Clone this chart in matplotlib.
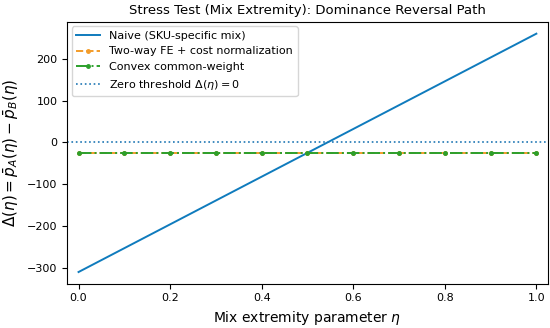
import numpy as np
import matplotlib
matplotlib.use("Agg")
import matplotlib.pyplot as plt

# mix extremity grid and the three estimators' dominance gap
eta = [0.0, 0.1, 0.2, 0.3, 0.4, 0.5, 0.6, 0.7, 0.8, 0.9, 1.0]
naive = [-310, -253, -196, -139, -82, -25, 32, 89, 146, 203, 260]
twoway_fe = [-25, -25, -25, -25, -25, -25, -25, -25, -25, -25, -25]
convex_cw = [-25, -25, -25, -25, -25, -25, -25, -25, -25, -25, -25]

fig, ax = plt.subplots(figsize=(5.5, 3.28), dpi=100)

ax.plot(eta, naive, color="#0f7bbd", lw=1.4, label="Naive (SKU-specific mix)")
ax.plot(eta, twoway_fe, color="#f39c2a", lw=1.4, ls="--", marker="o", ms=2.5,
        label="Two-way FE + cost normalization")
ax.plot(eta, convex_cw, color="#2ca02c", lw=1.4, ls="-.", marker="o", ms=2.5,
        label="Convex common-weight")
ax.axhline(0, color="#1f77b4", lw=1.2, ls=":", label=r"Zero threshold $\Delta(\eta) = 0$")

ax.set_xlim(-0.025, 1.025)
ax.set_ylim(-338, 288)
ax.set_xticks([0.0, 0.2, 0.4, 0.6, 0.8, 1.0])
ax.tick_params(labelsize=8)
ax.set_xlabel(r"Mix extremity parameter $\eta$", fontsize=10)
ax.set_ylabel(r"$\Delta(\eta) = \bar{p}_A(\eta) - \bar{p}_B(\eta)$", fontsize=11)
ax.set_title("Stress Test (Mix Extremity): Dominance Reversal Path", fontsize=9.5)
ax.legend(loc="upper left", fontsize=8, handlelength=2.2, borderaxespad=0.4)

plt.subplots_adjust(left=0.122, right=0.996, top=0.933, bottom=0.135)
fig.savefig("out.png", dpi=100)
